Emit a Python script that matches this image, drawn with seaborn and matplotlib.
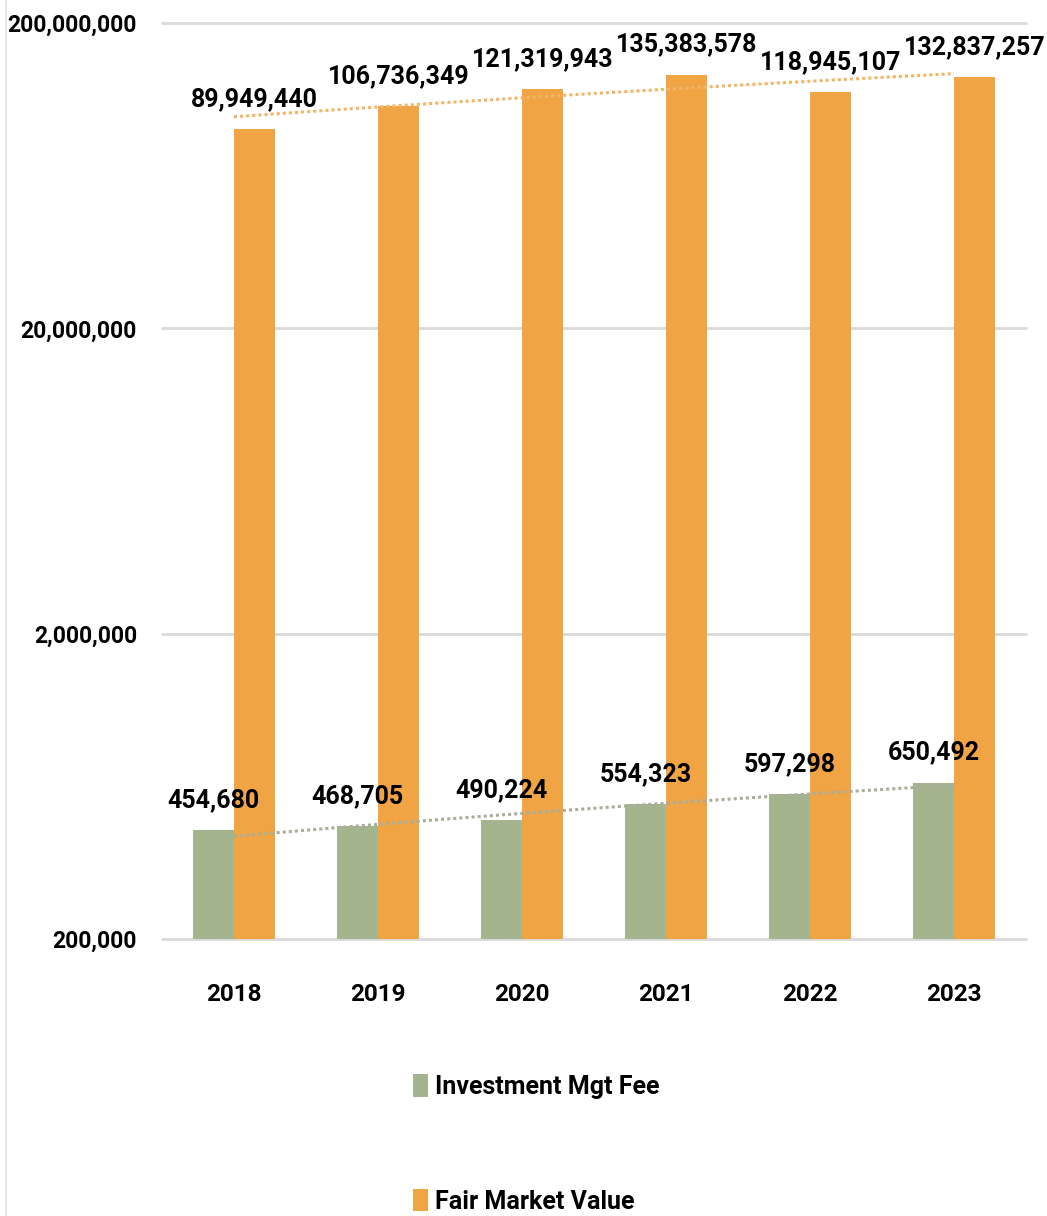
import numpy as np
import pandas as pd
import seaborn as sns
import matplotlib.pyplot as plt
from matplotlib.ticker import FixedLocator, FuncFormatter, NullLocator
from matplotlib.patches import Patch
from matplotlib.lines import Line2D

years = ['2018', '2019', '2020', '2021', '2022', '2023']
mgt_fee = [454680, 468705, 490224, 554323, 597298, 650492]
fair_value = [89949440, 106736349, 121319943, 135383578, 118945107, 132837257]
series_names = ['Investment Mgt Fee', 'Fair Market Value']
y_ticks = [200000, 2000000, 20000000, 200000000]

green = '#A4B48F'
orange = '#F0A444'

sns.set_theme(style='white')
plt.rcParams['font.family'] = ['Roboto', 'DejaVu Sans']
plt.rcParams['font.weight'] = 'bold'
plt.rcParams['text.color'] = 'black'

df = pd.DataFrame({
    'year': years * 2,
    'value': mgt_fee + fair_value,
    'series': [series_names[0]] * len(years) + [series_names[1]] * len(years),
})

fig = plt.figure(figsize=(10.47, 12.16), dpi=100)
ax = fig.add_axes([0.1547, 0.2278, 0.8253, 0.7533])

sns.barplot(data=df, x='year', y='value', hue='series', palette=[green, orange],
            width=0.57, gap=0, saturation=1, errorbar=None, legend=False, ax=ax,
            linewidth=0, zorder=3)
ax.set_yscale('log')
ax.set_ylim(y_ticks[0], y_ticks[-1])
ax.set_xlim(-0.5, len(years) - 0.5)

# gridlines
for t in y_ticks:
    ax.axhline(t, color='#D9D9D9', lw=2, zorder=1, clip_on=False)

ax.yaxis.set_major_locator(FixedLocator(y_ticks))
ax.yaxis.set_minor_locator(NullLocator())
ax.yaxis.set_major_formatter(FuncFormatter(lambda v, p: f'{int(v):,}'))
ax.tick_params(axis='y', length=0, pad=18, labelsize=16.5, labelcolor='black')
ax.tick_params(axis='x', length=0, pad=32, labelsize=17.5, labelcolor='black')
for lab in ax.get_xticklabels() + ax.get_yticklabels():
    lab.set_fontweight('bold')
ax.set_xlabel('')
ax.set_ylabel('')
sns.despine(ax=ax, left=True, bottom=True, top=True, right=True)

# data labels
offs = [-0.1425, 0.1425]
for vals, off in zip([mgt_fee, fair_value], offs):
    for i, v in enumerate(vals):
        ax.annotate(f'{v:,}', (i + off, v), xytext=(0, 13), textcoords='offset points',
                    ha='center', va='bottom', fontsize=18, fontweight='bold', zorder=5)

# linear trendlines (dotted)
xs = np.arange(len(years))
for vals, col in zip([mgt_fee, fair_value], ['#A8AE9C', '#F2B565']):
    k, b = np.polyfit(xs, vals, 1)
    xx = np.linspace(0, len(years) - 1, 50)
    ax.plot(xx, k * xx + b, ls=(0, (1, 1)), color=col, lw=2.2, zorder=4)

handles = [Patch(facecolor=green, edgecolor='none'), Patch(facecolor=orange, edgecolor='none')]
fig.legend(handles, series_names, loc='center', bbox_to_anchor=(0.512, 0.0592), frameon=False,
           prop={'size': 18, 'weight': 'bold'}, labelspacing=3.6, handlelength=0.6,
           handleheight=1.0, handletextpad=0.3)

# faint chart border at the left edge
fig.add_artist(Line2D([0.006, 0.006], [0, 1], transform=fig.transFigure, color='#E3E3E3', lw=1.2))

fig.savefig('out.png', dpi=100, facecolor='white')
